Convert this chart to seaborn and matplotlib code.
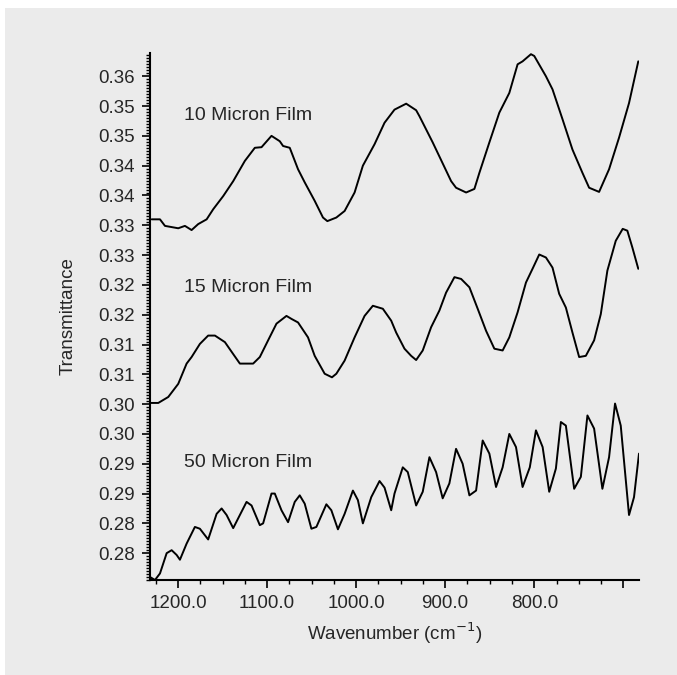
import numpy as np
import pandas as pd
import seaborn as sns
import matplotlib.pyplot as plt
from matplotlib.patches import Rectangle
from matplotlib.ticker import MultipleLocator, FixedLocator

# 10 micron film
wn_10 = [1229.5, 1220.2, 1214.6, 1199.7, 1192.2, 1184.7, 1177.3, 1167.8, 1160.4, 1149.2,
         1138.0, 1124.9, 1113.7, 1106.2, 1095.0, 1085.7, 1082.0, 1074.5, 1065.2, 1057.7,
         1046.5, 1037.2, 1032.3, 1022.2, 1012.9, 1001.7, 992.4, 979.3, 968.1, 956.9,
         943.8, 932.6, 928.9, 914.0, 893.3, 887.8, 876.5, 867.2, 861.6, 850.4,
         839.2, 828.0, 818.7, 813.1, 803.7, 800.0, 786.9, 779.5, 768.3, 757.1,
         745.9, 738.4, 727.2, 716.0, 704.8, 693.6, 683.2]
tr_10 = [0.3360, 0.3360, 0.3349, 0.3345, 0.3349, 0.3342, 0.3352, 0.3360, 0.3377, 0.3399,
         0.3424, 0.3458, 0.3480, 0.3481, 0.3500, 0.3491, 0.3483, 0.3480, 0.3444, 0.3422,
         0.3391, 0.3363, 0.3357, 0.3363, 0.3374, 0.3405, 0.3450, 0.3486, 0.3522, 0.3544,
         0.3554, 0.3543, 0.3533, 0.3489, 0.3424, 0.3413, 0.3405, 0.3411, 0.3438, 0.3489,
         0.3539, 0.3572, 0.3620, 0.3625, 0.3637, 0.3634, 0.3600, 0.3578, 0.3528, 0.3477,
         0.3438, 0.3413, 0.3406, 0.3444, 0.3497, 0.3555, 0.3625]

# 15 micron film
wn_15 = [1231.4, 1222.1, 1210.9, 1199.7, 1190.3, 1184.7, 1175.4, 1166.1, 1158.5, 1147.3,
         1138.0, 1130.5, 1115.6, 1108.1, 1098.8, 1089.4, 1078.2, 1072.6, 1065.2, 1054.0,
         1046.5, 1035.3, 1027.1, 1022.2, 1012.9, 1001.7, 990.5, 981.2, 970.0, 960.6,
         955.0, 945.7, 938.2, 932.6, 925.2, 915.8, 906.5, 899.0, 889.6, 882.1,
         872.8, 863.5, 854.1, 844.8, 835.5, 828.0, 818.7, 809.3, 801.3, 794.4,
         786.9, 779.5, 772.0, 764.5, 757.1, 749.6, 742.1, 732.8, 725.3, 717.9,
         708.5, 700.7, 695.5, 689.9, 683.2]
tr_15 = [0.3052, 0.3052, 0.3062, 0.3084, 0.3118, 0.3129, 0.3151, 0.3165, 0.3165, 0.3154,
         0.3134, 0.3118, 0.3118, 0.3129, 0.3157, 0.3185, 0.3198, 0.3193, 0.3187, 0.3162,
         0.3131, 0.3101, 0.3095, 0.3101, 0.3123, 0.3162, 0.3198, 0.3215, 0.3210, 0.3190,
         0.3170, 0.3143, 0.3131, 0.3124, 0.3140, 0.3179, 0.3207, 0.3237, 0.3263, 0.3260,
         0.3246, 0.3210, 0.3173, 0.3143, 0.3140, 0.3162, 0.3204, 0.3254, 0.3279, 0.3301,
         0.3296, 0.3279, 0.3235, 0.3212, 0.3170, 0.3129, 0.3131, 0.3157, 0.3201, 0.3274,
         0.3324, 0.3344, 0.3341, 0.3313, 0.3277]

# 50 micron film
wn_50 = [1231.4, 1225.8, 1220.2, 1212.7, 1207.1, 1201.5, 1197.8, 1190.3, 1181.0, 1175.4,
         1166.1, 1156.6, 1151.0, 1145.4, 1138.0, 1130.5, 1123.0, 1117.4, 1108.1, 1104.4,
         1095.0, 1091.3, 1083.8, 1076.4, 1068.9, 1063.3, 1057.7, 1050.2, 1044.6, 1033.4,
         1027.8, 1020.4, 1012.9, 1003.6, 998.0, 992.4, 983.0, 973.7, 968.1, 960.6,
         956.9, 947.6, 942.0, 932.6, 925.2, 917.7, 910.2, 902.8, 895.3, 887.8,
         880.4, 872.8, 865.3, 857.9, 850.4, 842.9, 835.5, 828.0, 820.5, 813.1,
         805.0, 798.1, 790.6, 783.2, 775.7, 770.1, 764.5, 755.2, 747.7, 740.3,
         732.8, 723.5, 716.0, 709.3, 702.9, 693.6, 688.0, 682.4]
tr_50 = [0.2760, 0.2755, 0.2766, 0.2800, 0.2805, 0.2797, 0.2789, 0.2816, 0.2844, 0.2841,
         0.2823, 0.2866, 0.2875, 0.2864, 0.2842, 0.2864, 0.2886, 0.2880, 0.2847, 0.2850,
         0.2900, 0.2900, 0.2872, 0.2852, 0.2886, 0.2897, 0.2883, 0.2841, 0.2844, 0.2882,
         0.2872, 0.2840, 0.2866, 0.2905, 0.2889, 0.2850, 0.2894, 0.2921, 0.2910, 0.2872,
         0.2900, 0.2944, 0.2936, 0.2880, 0.2903, 0.2961, 0.2936, 0.2892, 0.2917, 0.2975,
         0.2950, 0.2897, 0.2905, 0.2989, 0.2967, 0.2911, 0.2944, 0.3000, 0.2978, 0.2911,
         0.2944, 0.3006, 0.2978, 0.2903, 0.2942, 0.3020, 0.3014, 0.2908, 0.2928, 0.3031,
         0.3009, 0.2908, 0.2961, 0.3051, 0.3014, 0.2864, 0.2894, 0.2967]

films = ["10 Micron Film", "15 Micron Film", "50 Micron Film"]
label_y = [0.3535, 0.3245, 0.2952]

y_ticks = [0.28, 0.285, 0.29, 0.295, 0.30, 0.305, 0.31, 0.315, 0.32,
           0.325, 0.33, 0.335, 0.34, 0.345, 0.35, 0.355, 0.36]
y_labels = ["0.28", "0.28", "0.29", "0.29", "0.30", "0.30", "0.31", "0.31", "0.32",
            "0.32", "0.33", "0.33", "0.34", "0.34", "0.35", "0.35", "0.36"]
x_ticks = [1200, 1100, 1000, 900, 800, 700]
x_labels = ["1200.0", "1100.0", "1000.0", "900.0", "800.0", ""]

df = pd.concat([
    pd.DataFrame({"wn": wn_10, "T": tr_10, "film": films[0]}),
    pd.DataFrame({"wn": wn_15, "T": tr_15, "film": films[1]}),
    pd.DataFrame({"wn": wn_50, "T": tr_50, "film": films[2]}),
])

bg = "#ebebeb"
sns.set_style("ticks", {"axes.facecolor": bg})
plt.rcParams["font.family"] = ["Liberation Sans", "DejaVu Sans"]

fig = plt.figure(figsize=(6.77, 6.75), dpi=100, facecolor="white")
fig.patches.append(Rectangle((5 / 677, 0), 1, 1 - 8 / 675, transform=fig.transFigure,
                             facecolor=bg, edgecolor="none", zorder=-10))
ax = fig.add_axes([150 / 677, 1 - 580 / 675, 489 / 677, 527 / 675])

sns.lineplot(data=df, x="wn", y="T", units="film", estimator=None, sort=False,
             color="black", linewidth=1.4, ax=ax)

for name, yy in zip(films, label_y):
    ax.text(1193, yy, name, fontsize=14, va="center", ha="left")

ax.set_xlim(1231.4, 682.4)
ax.set_ylim(0.2755, 0.3639)

ax.xaxis.set_major_locator(FixedLocator(x_ticks))
ax.set_xticklabels(x_labels)
ax.xaxis.set_minor_locator(MultipleLocator(25))
ax.yaxis.set_major_locator(FixedLocator(y_ticks))
ax.set_yticklabels(y_labels)
ax.yaxis.set_minor_locator(MultipleLocator(0.0005))

ax.tick_params(axis="both", which="major", direction="out", length=6, width=1.2,
               labelsize=13.5, color="black", pad=5)
ax.tick_params(axis="both", which="minor", direction="out", length=3, width=1.0,
               color="black")

for side in ["top", "right"]:
    ax.spines[side].set_visible(False)
for side in ["left", "bottom"]:
    ax.spines[side].set_linewidth(1.5)
    ax.spines[side].set_color("black")

ax.set_xlabel("Wavenumber (cm$^{-1}$)", fontsize=13.5)
ax.set_ylabel("Transmittance", fontsize=13.5)
ax.xaxis.set_label_coords((395 - 150) / 489, -(620 - 580) / 527)
ax.yaxis.set_label_coords(-(150 - 77) / 489, (580 - 316) / 527)

fig.savefig("out.png", dpi=100, facecolor=fig.get_facecolor())
